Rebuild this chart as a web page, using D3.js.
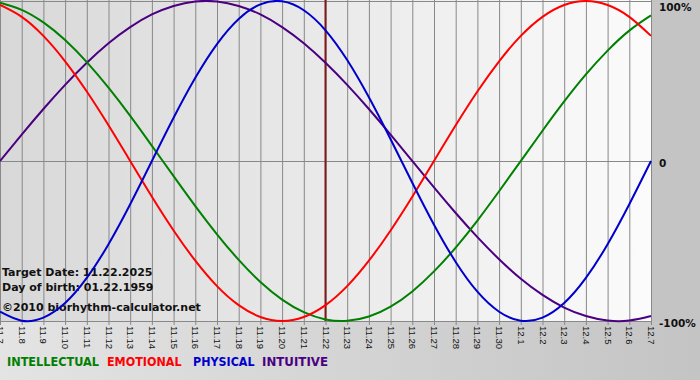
<!DOCTYPE html>
<html><head><meta charset="utf-8">
<script src="https://cdn.jsdelivr.net/npm/d3@7"></script>
<style>html,body{margin:0;padding:0;background:#c4c4c4;}svg{display:block;}</style>
</head><body>
<svg id="c" width="700" height="380"></svg>
<script>
const dates = ["11.7","11.8","11.9","11.10","11.11","11.12","11.13","11.14","11.15","11.16","11.17","11.18","11.19","11.20","11.21","11.22","11.23","11.24","11.25","11.26","11.27","11.28","11.29","11.30","12.1","12.2","12.3","12.4","12.5","12.6","12.7"];
const physical = [-0.942,-0.998,-0.979,-0.888,-0.731,-0.520,-0.270,0,0.270,0.520,0.731,0.888,0.979,0.998,0.942,0.817,0.631,0.398,0.136,-0.136,-0.398,-0.631,-0.817,-0.942,-0.998,-0.979,-0.888,-0.731,-0.520,-0.270,0];
const emotional = [0.975,0.901,0.782,0.623,0.434,0.223,0,-0.223,-0.434,-0.623,-0.782,-0.901,-0.975,-1,-0.975,-0.901,-0.782,-0.623,-0.434,-0.223,0,0.223,0.434,0.623,0.782,0.901,0.975,1,0.975,0.901,0.782];
const intellectual = [0.990,0.945,0.866,0.756,0.618,0.458,0.282,0.095,-0.095,-0.282,-0.458,-0.618,-0.756,-0.866,-0.945,-0.990,-0.999,-0.972,-0.910,-0.815,-0.690,-0.541,-0.372,-0.189,0,0.189,0.372,0.541,0.690,0.815,0.910];
const intuitive = [0,0.165,0.325,0.476,0.614,0.736,0.837,0.916,0.969,0.997,0.997,0.969,0.916,0.837,0.736,0.614,0.476,0.325,0.165,0,-0.165,-0.325,-0.476,-0.614,-0.736,-0.837,-0.916,-0.969,-0.997,-0.997,-0.969];
const targetDate = "11.22";
const yTicks = [1, 0, -1];
const yTickLabels = ["100%", "0", "-100%"];
const legendNames = ["INTELLECTUAL","EMOTIONAL","PHYSICAL","INTUITIVE"];
const legendColors = ["#008000","#ff0000","#0000cc","#4b0082"];
const infoLines = ["Target Date: 11.22.2025","Day of birth: 01.22.1959","\u00a92010 biorhythm-calculator.net"];

(function(){
const svg = d3.select("#c");
const W = 700, H = 380;
const pL = 0, pR = 651, pT = 1, pB = 321;
const x = d3.scalePoint().domain(dates).range([pL, pR]);
const y = d3.scaleLinear().domain([-1, 1]).range([pB, pT]);

const defs = svg.append("defs");
const g1 = defs.append("linearGradient").attr("id","plotbg").attr("x1","0").attr("x2","1").attr("y1","0").attr("y2","0");
g1.append("stop").attr("offset","0").attr("stop-color","#d8d8d8");
g1.append("stop").attr("offset","1").attr("stop-color","#fbfbfb");
const g2 = defs.append("linearGradient").attr("id","botbg").attr("x1","0").attr("x2","1").attr("y1","0").attr("y2","0");
g2.append("stop").attr("offset","0").attr("stop-color","#e4e4e4");
g2.append("stop").attr("offset","1").attr("stop-color","#c4c4c4");

svg.append("rect").attr("width",W).attr("height",H).attr("fill","#c4c4c4");
svg.append("rect").attr("x",0).attr("y",pB).attr("width",W).attr("height",H-pB).attr("fill","url(#botbg)");
svg.append("rect").attr("x",pL).attr("y",0).attr("width",pR-pL).attr("height",pB).attr("fill","url(#plotbg)");

// vertical grid + ticks
const gx = svg.append("g").call(d3.axisBottom(x).tickSize(pB + 4).tickFormat(""));
gx.select(".domain").remove();
gx.selectAll(".tick line").attr("stroke","#888").attr("stroke-width",1);

// horizontal grid
svg.append("g").selectAll("line").data(yTicks).join("line")
  .attr("x1",pL).attr("x2",pR).attr("y1",d=>Math.round(y(d))+0.5).attr("y2",d=>Math.round(y(d))+0.5)
  .attr("stroke","#888").attr("stroke-width",1);

const gy = svg.append("g").attr("transform",`translate(${pR},0)`)
  .call(d3.axisRight(y).tickValues(yTicks).tickSize(0).tickFormat((d,i)=>yTickLabels[i]).tickPadding(8));
gy.select(".domain").remove();
gy.selectAll(".tick text")
  .attr("dy", d => d === 1 ? "9px" : "5px")
  .attr("font-family","Verdana, 'DejaVu Sans', sans-serif").attr("font-weight","bold").attr("font-size","10.5px").attr("fill","#111");

// tick labels rotated
svg.append("g").selectAll("text").data(dates).join("text")
  .attr("transform",d=>`translate(${x(d)-3},${pB+5}) rotate(90)`)
  .attr("font-family","'Liberation Sans', Arial, sans-serif").attr("font-size","9.5px").attr("fill","#111")
  .text(d=>d);

// target line
svg.append("line").attr("x1",x(targetDate)).attr("x2",x(targetDate)).attr("y1",0).attr("y2",pB)
  .attr("stroke","#7e1a1a").attr("stroke-width",2);

// info text
svg.append("g").selectAll("text").data(infoLines).join("text")
  .attr("x",2).attr("y",(d,i)=>[276,291,311][i])
  .attr("font-family","Verdana, 'DejaVu Sans', sans-serif").attr("font-weight","bold").attr("font-size","11px").attr("fill","#111")
  .text(d=>d);

// curves
const line = d3.line().x((d,i)=>x(dates[i])).y(d=>y(d)).curve(d3.curveNatural);
const series = [[intuitive,"#4b0082"],[intellectual,"#008000"],[emotional,"#ff0000"],[physical,"#0000cc"]];
svg.append("g").selectAll("path").data(series).join("path")
  .attr("d",d=>line(d[0])).attr("fill","none").attr("stroke",d=>d[1]).attr("stroke-width",2);

// legend
const lxs = [7, 107, 193, 262], lws = [92, 74.5, 61.5, 66];
svg.append("g").selectAll("text").data(legendNames).join("text")
  .attr("x",(d,i)=>lxs[i]).attr("y",366)
  .attr("textLength",(d,i)=>lws[i]).attr("lengthAdjust","spacingAndGlyphs")
  .attr("font-family","Verdana, 'DejaVu Sans', sans-serif").attr("font-weight","bold").attr("font-size","12.5px")
  .attr("fill",(d,i)=>legendColors[i]).text(d=>d);
})();
</script>
</body></html>
